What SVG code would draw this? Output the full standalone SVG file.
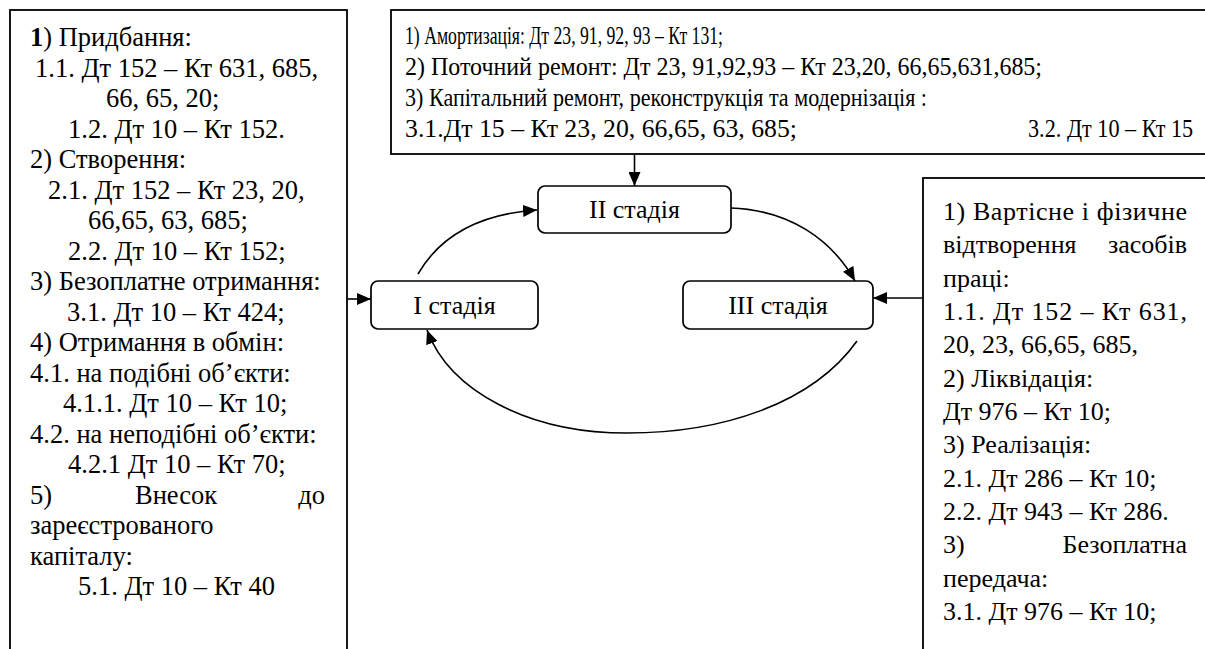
<svg xmlns="http://www.w3.org/2000/svg" width="1205" height="649" viewBox="0 0 1205 649">
<defs>
<style>
.t{font-family:"Liberation Serif","Times New Roman",serif;font-size:26px;fill:#000}
.tl{font-family:"Liberation Serif","Times New Roman",serif;font-size:26.5px;fill:#000}
.tb{font-family:"Liberation Serif","Times New Roman",serif;font-size:26px;fill:#000}
.box{fill:#fff;stroke:#000;stroke-width:1.8}
.stage{fill:#fff;stroke:#000;stroke-width:1.7}
.con{fill:none;stroke:#000;stroke-width:1.6}
</style>
<marker id="ah" markerWidth="14" markerHeight="12" refX="14" refY="6" orient="auto" markerUnits="userSpaceOnUse">
<path d="M0,0 L14,6 L0,12 z" fill="#000"/>
</marker>
</defs>
<rect width="1205" height="649" fill="#fff"/>

<g id="left-box">
<rect class="box" x="10" y="10" width="337" height="700"/>
<text class="tl" x="30" y="46"><tspan font-weight="bold">1</tspan>) Придбання:</text>
<text class="tl" x="35" y="76.5">1.1. Дт 152 – Кт 631, 685,</text>
<text class="tl" x="106" y="107">66, 65, 20;</text>
<text class="tl" x="68" y="137.5">1.2. Дт 10 – Кт 152.</text>
<text class="tl" x="30" y="168">2) Створення:</text>
<text class="tl" x="48" y="198.5">2.1. Дт 152 – Кт 23, 20,</text>
<text class="tl" x="88" y="229">66,65, 63, 685;</text>
<text class="tl" x="68" y="259.5">2.2. Дт 10 – Кт 152;</text>
<text class="tl" x="30" y="290">3) Безоплатне отримання:</text>
<text class="tl" x="67" y="320.5">3.1. Дт 10 – Кт 424;</text>
<text class="tl" x="30" y="351">4) Отримання в обмін:</text>
<text class="tl" x="30" y="381.5">4.1. на подібні об’єкти:</text>
<text class="tl" x="63" y="412">4.1.1. Дт 10 – Кт 10;</text>
<text class="tl" x="30" y="442.5">4.2. на неподібні об’єкти:</text>
<text class="tl" x="68" y="473">4.2.1 Дт 10 – Кт 70;</text>
<text class="tl" x="30" y="503.5">5)</text>
<text class="tl" x="135" y="503.5">Внесок</text>
<text class="tl" x="325" y="503.5" text-anchor="end">до</text>
<text class="tl" x="30" y="534">зареєстрованого</text>
<text class="tl" x="30" y="564.5">капіталу:</text>
<text class="tl" x="78" y="595">5.1. Дт 10 – Кт 40</text>
</g>

<g id="top-box">
<rect class="box" x="391" y="10" width="830" height="144"/>
<text class="tb" x="405" y="44" textLength="318" lengthAdjust="spacingAndGlyphs">1) Амортизація: Дт 23, 91, 92, 93 – Кт 131;</text>
<text class="tb" x="405" y="75" textLength="637" lengthAdjust="spacingAndGlyphs">2) Поточний ремонт: Дт 23, 91,92,93 – Кт 23,20, 66,65,631,685;</text>
<text class="tb" x="405" y="106" textLength="522" lengthAdjust="spacingAndGlyphs">3) Капітальний ремонт, реконструкція та модернізація :</text>
<text class="tb" x="405" y="137" textLength="392" lengthAdjust="spacingAndGlyphs">3.1.Дт 15 – Кт 23, 20, 66,65, 63, 685;</text>
<text class="tb" transform="translate(1028,137) scale(0.855,1)" x="0" y="0">3.2. Дт 10 – Кт 15</text>
</g>

<g id="right-box">
<rect class="box" x="923" y="178" width="300" height="520"/>
<text class="t" x="943" y="220" textLength="244" lengthAdjust="spacing">1) Вартісне і фізичне</text>
<text class="t" x="943" y="253.3">відтворення</text>
<text class="t" x="1187" y="253.3" text-anchor="end">засобів</text>
<text class="t" x="943" y="286.6">праці:</text>
<text class="t" x="943" y="320" textLength="244" lengthAdjust="spacing">1.1. Дт 152 – Кт 631,</text>
<text class="t" x="943" y="353.3">20, 23, 66,65, 685,</text>
<text class="t" x="943" y="386.6">2) Ліквідація:</text>
<text class="t" x="943" y="420">Дт 976 – Кт 10;</text>
<text class="t" x="943" y="453.3">3) Реалізація:</text>
<text class="t" x="943" y="486.6">2.1. Дт 286 – Кт 10;</text>
<text class="t" x="943" y="520">2.2. Дт 943 – Кт 286.</text>
<text class="t" x="943" y="553.3">3)</text>
<text class="t" x="1187" y="553.3" text-anchor="end">Безоплатна</text>
<text class="t" x="943" y="586.6">передача:</text>
<text class="t" x="943" y="620">3.1. Дт 976 – Кт 10;</text>
</g>

<g id="stage-1">
<rect class="stage" x="371" y="281" width="167" height="48" rx="7"/>
<text class="t" x="454.5" y="314" text-anchor="middle">I стадія</text>
</g>
<g id="stage-2">
<rect class="stage" x="538" y="186" width="193" height="47" rx="7"/>
<text class="t" x="634.5" y="218" text-anchor="middle">II стадія</text>
</g>
<g id="stage-3">
<rect class="stage" x="683" y="281" width="190" height="48" rx="7"/>
<text class="t" x="778" y="314" text-anchor="middle">III стадія</text>
</g>

<g id="connectors">
<line class="con" x1="347" y1="299" x2="371" y2="299" marker-end="url(#ah)"/>
<line class="con" x1="634.5" y1="154" x2="634.5" y2="186" marker-end="url(#ah)"/>
<line class="con" x1="923" y1="298" x2="873" y2="298" marker-end="url(#ah)"/>
<path class="con" d="M418,274 C440,236 478,214 537,210" marker-end="url(#ah)"/>
<path class="con" d="M731,208 C790,210 832,240 855,281" marker-end="url(#ah)"/>
<path class="con" d="M857,341 C812,404 722,433 627,433 C530,433 450,392 427,330" marker-end="url(#ah)"/>
</g>
</svg>
